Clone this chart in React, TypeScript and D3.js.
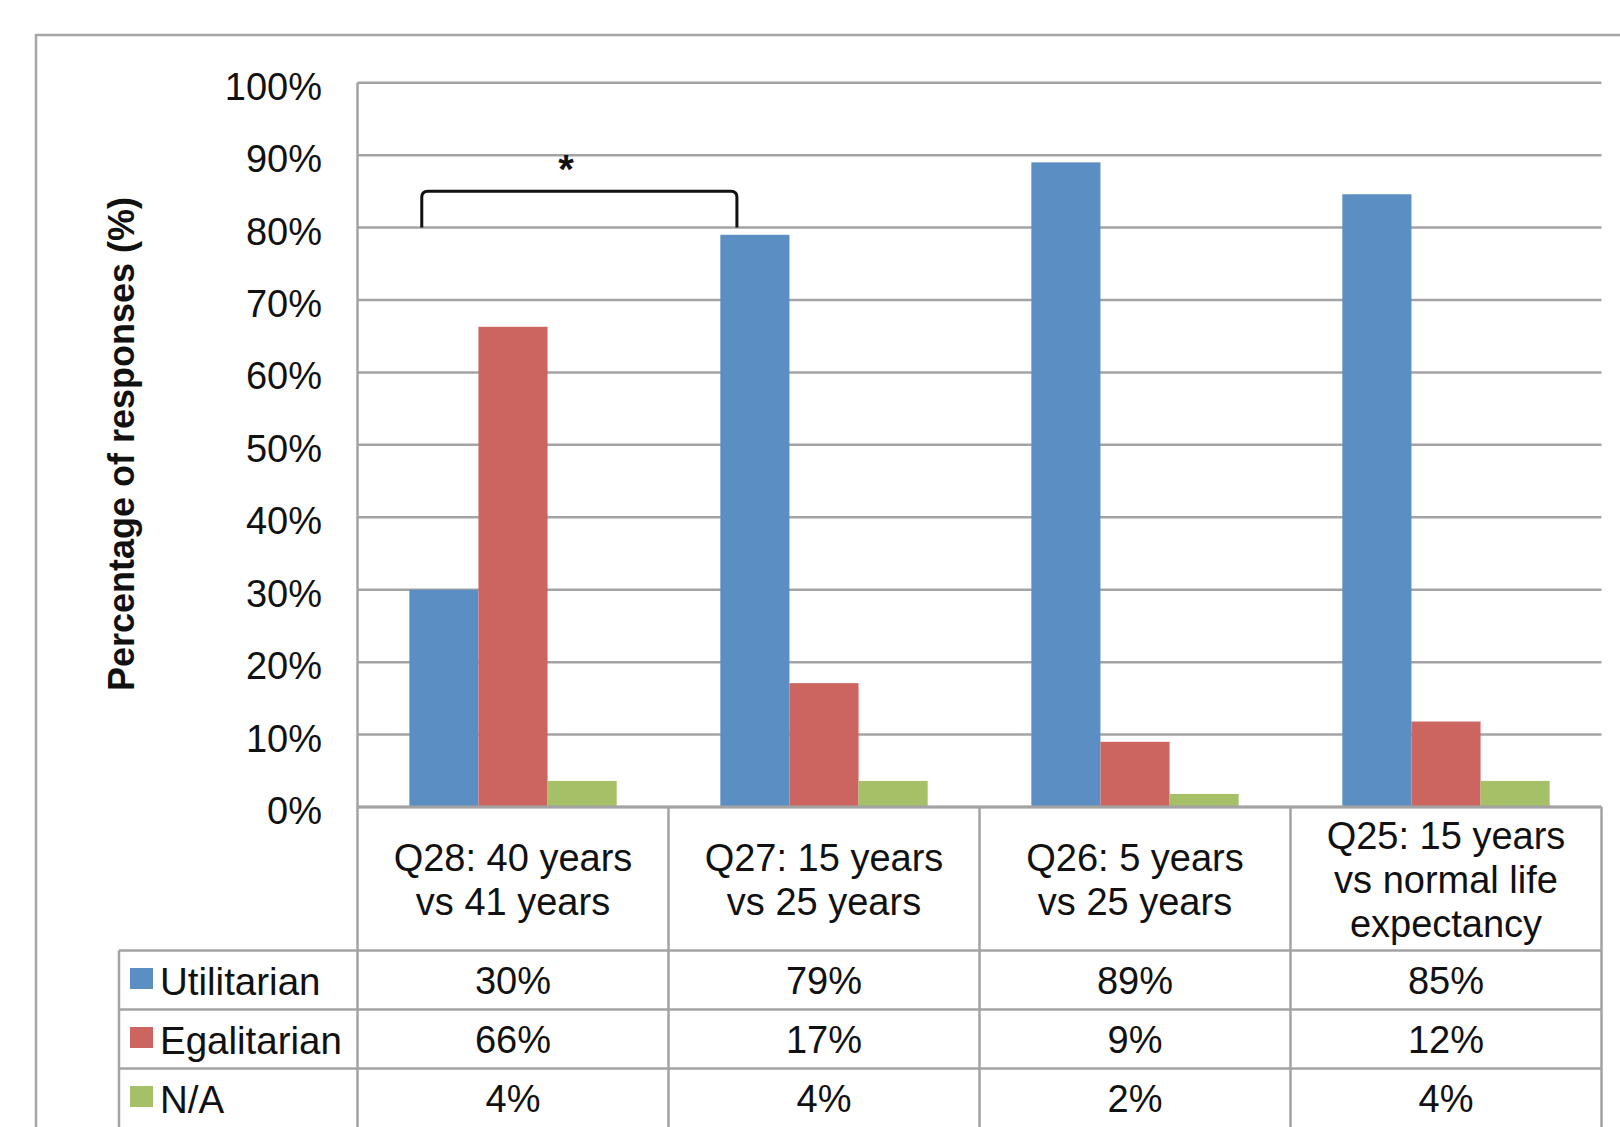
import React from "react";
import * as d3 from "d3";

const categories = ["Q28", "Q27", "Q26", "Q25"];
const categoryLines: string[][] = [
  ["Q28: 40 years", "vs 41 years"],
  ["Q27: 15 years", "vs 25 years"],
  ["Q26: 5 years", "vs 25 years"],
  ["Q25: 15 years", "vs normal life", "expectancy"],
];
const seriesNames = ["Utilitarian", "Egalitarian", "N/A"];
const utilitarian = [30, 79, 89, 84.6];
const egalitarian = [66.3, 17.1, 9, 11.8];
const notApplicable = [3.6, 3.6, 1.8, 3.6];
const seriesColors = ["#5B8FC4", "#CC6560", "#A5C066"];
const yTicks = [0, 10, 20, 30, 40, 50, 60, 70, 80, 90, 100];
const yTitle = "Percentage of responses (%)";

const W = 1620;
const H = 1127;
const FONT = "'Liberation Sans', Arial, sans-serif";

export default function App() {
  const seriesValues = [utilitarian, egalitarian, notApplicable];
  const x = d3.scaleBand<string>().domain(categories).range([357.5, 1601.5]).padding(0);
  const bw = x.bandwidth();
  const xs = d3
    .scaleBand<string>()
    .domain(seriesNames)
    .range([0, bw])
    .paddingInner(0)
    .paddingOuter(0.75);
  const y = d3.scaleLinear().domain([0, 100]).range([807, 82.7]);

  const plotLeft = x.range()[0];
  const plotRight = x.range()[1];
  const gridColor = "#a3a3a3";
  const tableTop = y(0);
  const labelRowBottom = 950.5;
  const rowH = 59;
  const legendLeft = 119;
  const rowTops = seriesNames.map((_, i) => labelRowBottom + i * rowH);

  // bracket
  const barW = xs.bandwidth();
  const bx1 = (x("Q28") as number) + (xs("Utilitarian") as number) + barW * 0.18;
  const bx2 = (x("Q27") as number) + (xs("Utilitarian") as number) + barW * 0.24;
  const byTop = y(85);
  const byBot = y(80);
  const r = 6;
  const bracketPath = `M${bx1},${byBot} L${bx1},${byTop + r} Q${bx1},${byTop} ${bx1 + r},${byTop} L${bx2 - r},${byTop} Q${bx2},${byTop} ${bx2},${byTop + r} L${bx2},${byBot}`;

  return (
    <svg
      width={W}
      height={H}
      style={{ position: "absolute", left: 0, top: 0, background: "#fff" }}
      fontFamily={FONT}
    >
      <rect x={0} y={0} width={W} height={H} fill="#fff" />
      {/* outer chart border */}
      <rect x={36} y={35} width={W} height={H} fill="none" stroke="#a6a6a6" strokeWidth={2.5} />

      {/* gridlines */}
      {yTicks.map((t) => (
        <line
          key={"g" + t}
          x1={plotLeft}
          x2={plotRight}
          y1={y(t)}
          y2={y(t)}
          stroke={gridColor}
          strokeWidth={2.5}
        />
      ))}
      {/* left axis line */}
      <line x1={plotLeft} x2={plotLeft} y1={y(100)} y2={y(0)} stroke={gridColor} strokeWidth={2.5} />

      {/* y tick labels */}
      {yTicks.map((t) => (
        <text
          key={"t" + t}
          x={322}
          y={y(t) + 4}
          textAnchor="end"
          dominantBaseline="central"
          fontSize={38}
          fill="#111"
        >
          {t + "%"}
        </text>
      ))}

      {/* y title */}
      <text
        transform={`translate(121,444) rotate(-90)`}
        textAnchor="middle"
        dominantBaseline="central"
        fontSize={36}
        fontWeight="bold"
        fill="#111"
      >
        {yTitle}
      </text>

      {/* bars */}
      {categories.map((c, ci) =>
        seriesNames.map((s, si) => {
          const v = seriesValues[si][ci];
          return (
            <rect
              key={c + s}
              x={(x(c) as number) + (xs(s) as number)}
              y={y(v)}
              width={barW}
              height={y(0) - y(v)}
              fill={seriesColors[si]}
            />
          );
        })
      )}

      {/* axis / table top line */}
      <line x1={plotLeft} x2={plotRight} y1={tableTop} y2={tableTop} stroke={gridColor} strokeWidth={3} />

      {/* table vertical lines */}
      {[...categories.map((c) => x(c) as number), plotRight].map((vx, i) => (
        <line key={"v" + i} x1={vx} x2={vx} y1={tableTop} y2={H + 5} stroke={gridColor} strokeWidth={2.5} />
      ))}
      <line x1={legendLeft} x2={legendLeft} y1={labelRowBottom} y2={H + 5} stroke={gridColor} strokeWidth={2.5} />
      {rowTops.map((ry, i) => (
        <line key={"h" + i} x1={legendLeft} x2={plotRight} y1={ry} y2={ry} stroke={gridColor} strokeWidth={2.5} />
      ))}

      {/* category labels */}
      {categories.map((c, ci) => {
        const lines = categoryLines[ci];
        const cx = (x(c) as number) + bw / 2;
        const cy = (tableTop + labelRowBottom) / 2 + 1;
        const lh = 44;
        return lines.map((ln, li) => (
          <text
            key={c + li}
            x={cx}
            y={cy + (li - (lines.length - 1) / 2) * lh}
            textAnchor="middle"
            dominantBaseline="central"
            fontSize={38}
            fill="#111"
          >
            {ln}
          </text>
        ));
      })}

      {/* legend rows */}
      {seriesNames.map((s, si) => {
        const cy = rowTops[si] + rowH / 2;
        return (
          <g key={"l" + s}>
            <rect x={130} y={cy - 12} width={23} height={21} fill={seriesColors[si]} />
            <text x={160} y={cy + 1} dominantBaseline="central" fontSize={38.5} fill="#111">
              {s}
            </text>
            {categories.map((c, ci) => (
              <text
                key={c}
                x={(x(c) as number) + bw / 2}
                y={cy + 1}
                textAnchor="middle"
                dominantBaseline="central"
                fontSize={38}
                fill="#111"
              >
                {Math.round(seriesValues[si][ci]) + "%"}
              </text>
            ))}
          </g>
        );
      })}

      {/* significance bracket */}
      <path d={bracketPath} fill="none" stroke="#111" strokeWidth={3} />
      <text x={566} y={y(89) + 21} textAnchor="middle" fontSize={40} fontWeight="bold" fill="#111">
        *
      </text>
    </svg>
  );
}
